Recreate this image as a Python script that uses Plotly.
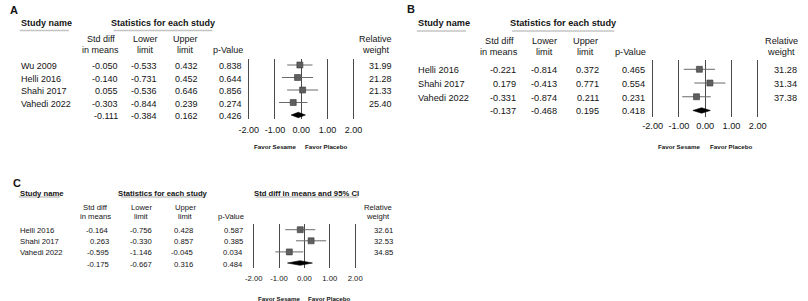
import plotly.graph_objects as go

W, H = 808, 301
FONT = "Liberation Sans, Arial, Helvetica, sans-serif"
TXT = "#141414"

# ---------------- data ----------------
a_study = ["Wu 2009", "Helli 2016", "Shahi 2017", "Vahedi 2022"]
a_smd = [-0.050, -0.140, 0.055, -0.303]
a_lower = [-0.533, -0.731, -0.536, -0.844]
a_upper = [0.432, 0.452, 0.646, 0.239]
a_p = [0.838, 0.644, 0.856, 0.274]
a_weight = [31.99, 21.28, 21.33, 25.40]
a_summary = [-0.111, -0.384, 0.162, 0.426]  # smd, lower, upper, p

b_study = ["Helli 2016", "Shahi 2017", "Vahedi 2022"]
b_smd = [-0.221, 0.179, -0.331]
b_lower = [-0.814, -0.413, -0.874]
b_upper = [0.372, 0.771, 0.211]
b_p = [0.465, 0.554, 0.231]
b_weight = [31.28, 31.34, 37.38]
b_summary = [-0.137, -0.468, 0.195, 0.418]

c_study = ["Helli 2016", "Shahi 2017", "Vahedi 2022"]
c_smd = [-0.164, 0.263, -0.595]
c_lower = [-0.756, -0.330, -1.146]
c_upper = [0.428, 0.857, -0.045]
c_p = [0.587, 0.385, 0.034]
c_weight = [32.61, 32.53, 34.85]
c_summary = [-0.175, -0.667, 0.316, 0.484]

tick_vals = [-2, -1, 0, 1, 2]
tick_text = ["-2.00", "-1.00", "0.00", "1.00", "2.00"]

# ---------------- layout (pixel positions) ----------------
LAY_A = dict(letter="A", letter_xy=(6.5, 9), fs=9, row0=65, dr=12.5, lt=59, lb=118.5,
             xm2=245, xp2=351.7, head_y=22.5, ul_y=30.5, sub_y=(38.3, 49),
             name_x=12, study_ul=(12, 62), stats_ul=(107.5, 208),
             smd=(113, 94.5), lo=(153, 139.5), hi=(194, 180.5), p=(239, 224), w=(391.7, 374),
             standoff=4, favor_y=145.7, favor_c=(272.5, 324.5), ci_head=None, dia=2.7)
LAY_B = dict(letter="B", letter_xy=(410, 8), fs=9.2, row0=69.3, dr=13.73, lt=60, lb=117.3,
             xm2=656, xp2=763, head_y=22.5, ul_y=31, sub_y=(40, 51),
             name_x=416, study_ul=(416, 466), stats_ul=(513, 617),
             smd=(518.3, 500), lo=(560, 545.5), hi=(602.3, 588), p=(649, 633), w=(804, 787),
             standoff=1, favor_y=145.7, favor_c=(683.5, 736.5), ci_head=None, dia=2.7)
LAY_C = dict(letter="C", letter_xy=(9, 181.5), fs=7.7, row0=229.7, dr=11.1, lt=224, lb=267.7,
             xm2=250, xp2=353.3, head_y=192, ul_y=197, sub_y=(206, 215.7),
             name_x=11, study_ul=(11, 53), stats_ul=(115, 200),
             smd=(104.3, 89), lo=(148, 136.3), hi=(189, 180.3), p=(240, 227), w=(392.3, 377),
             standoff=5, favor_y=297, favor_c=(276.5, 327.5), ci_head=(252, 356), dia=2.3)


def X(px):
    return px / W


def Y(py):
    return 1 - py / H


fig = go.Figure()
annotations = []
shapes = []
layout_axes = {}


def ann(text, x, y, yref="paper", xanchor="center", fs=9, bold=False):
    annotations.append(dict(
        text=f"<b>{text}</b>" if bold else text, x=X(x), y=y, xref="paper", yref=yref,
        xanchor=xanchor, yanchor="middle", showarrow=False, yshift=-1,
        font=dict(family=FONT, size=fs, color=TXT), borderpad=0))


def add_panel(i, study, smd, lo, hi, p, w, summ, L):
    sfx = "" if i == 1 else str(i)
    xa, ya = "x" + sfx, "y" + sfx
    yref = ya
    n = len(study)
    rows = list(range(n))
    fs = L["fs"]

    # study squares with CI lines
    fig.add_trace(go.Scatter(
        x=smd, y=rows, mode="markers",
        marker=dict(symbol="square", size=6, color="#5f5f5f",
                    line=dict(color="#3a3a3a", width=0.6)),
        error_x=dict(type="data", symmetric=False,
                     array=[h - s for h, s in zip(hi, smd)],
                     arrayminus=[s - l for s, l in zip(smd, lo)],
                     color="#6a6a6a", thickness=1, width=0),
        xaxis=xa, yaxis=ya, showlegend=False, hoverinfo="skip"))

    # summary diamond
    s, sl, su, sp = summ
    hh = L["dia"] / L["dr"]
    fig.add_trace(go.Scatter(
        x=[sl, s, su, s, sl], y=[n, n - hh, n, n + hh, n], mode="lines",
        fill="toself", fillcolor="#000000", line=dict(color="#000000", width=0.6),
        xaxis=xa, yaxis=ya, showlegend=False, hoverinfo="skip"))

    # axes
    unit = (L["xp2"] - L["xm2"]) / 4
    xdom = [X(L["xm2"] - 0.1 * unit), X(L["xp2"] + 0.1 * unit)]
    top = (L["lt"] - L["row0"]) / L["dr"]
    bot = (L["lb"] - L["row0"]) / L["dr"]
    ydom = [Y(L["lb"]), Y(L["lt"])]
    layout_axes["xaxis" + sfx] = dict(
        domain=xdom, range=[-2.1, 2.1], anchor=ya, showgrid=True, gridcolor="#4a4a4a",
        gridwidth=1, zeroline=False, showline=False, ticks="",
        tickmode="array", tickvals=tick_vals, ticktext=tick_text,
        tickfont=dict(family=FONT, size=fs, color=TXT), ticklabelstandoff=L["standoff"],
        fixedrange=True)
    layout_axes["yaxis" + sfx] = dict(
        domain=ydom, range=[bot, top], anchor=xa, visible=False, showgrid=False,
        zeroline=False, fixedrange=True)

    # letter
    lx, ly = L["letter_xy"]
    ann(L["letter"], lx, Y(ly), fs=11, bold=True)

    # headers
    ann("Study name", L["name_x"], Y(L["head_y"]), xanchor="left", fs=fs, bold=True)
    sx0, sx1 = L["stats_ul"]
    ann("Statistics for each study", (sx0 + sx1) / 2, Y(L["head_y"]), fs=fs, bold=True)
    shapes.append(dict(type="line", xref="paper", yref="paper",
                       x0=X(L["study_ul"][0]), x1=X(L["study_ul"][1]),
                       y0=Y(L["ul_y"]), y1=Y(L["ul_y"]), line=dict(color="#c4c4c4", width=1.5)))
    shapes.append(dict(type="line", xref="paper", yref="paper",
                       x0=X(sx0), x1=X(sx1), y0=Y(L["ul_y"]), y1=Y(L["ul_y"]),
                       line=dict(color="#c4c4c4", width=1.5)))
    if L["ci_head"]:
        c0, c1 = L["ci_head"]
        ann("Std diff in means and 95% CI", (c0 + c1) / 2, Y(L["head_y"]), fs=fs, bold=True)
        shapes.append(dict(type="line", xref="paper", yref="paper",
                           x0=X(c0), x1=X(c1), y0=Y(L["ul_y"]), y1=Y(L["ul_y"]),
                           line=dict(color="#c4c4c4", width=1.5)))

    y1, y2 = L["sub_y"]
    ann("Std diff", L["smd"][1], Y(y1), fs=fs)
    ann("in means", L["smd"][1], Y(y2), fs=fs)
    ann("Lower", L["lo"][1], Y(y1), fs=fs)
    ann("limit", L["lo"][1], Y(y2), fs=fs)
    ann("Upper", L["hi"][1], Y(y1), fs=fs)
    ann("limit", L["hi"][1], Y(y2), fs=fs)
    ann("p-Value", L["p"][1], Y(y2), fs=fs)
    ann("Relative", L["w"][1], Y(y1), fs=fs)
    ann("weight", L["w"][1], Y(y2), fs=fs)

    # rows
    for r in range(n):
        ann(study[r], L["name_x"], r, yref=yref, xanchor="left", fs=fs)
        ann(f"{smd[r]:.3f}", L["smd"][0], r, yref=yref, xanchor="right", fs=fs)
        ann(f"{lo[r]:.3f}", L["lo"][0], r, yref=yref, xanchor="right", fs=fs)
        ann(f"{hi[r]:.3f}", L["hi"][0], r, yref=yref, xanchor="right", fs=fs)
        ann(f"{p[r]:.3f}", L["p"][0], r, yref=yref, xanchor="right", fs=fs)
        ann(f"{w[r]:.2f}", L["w"][0], r, yref=yref, xanchor="right", fs=fs)
    ann(f"{s:.3f}", L["smd"][0], n, yref=yref, xanchor="right", fs=fs)
    ann(f"{sl:.3f}", L["lo"][0], n, yref=yref, xanchor="right", fs=fs)
    ann(f"{su:.3f}", L["hi"][0], n, yref=yref, xanchor="right", fs=fs)
    ann(f"{sp:.3f}", L["p"][0], n, yref=yref, xanchor="right", fs=fs)

    # favour labels
    f0, f1 = L["favor_c"]
    ann("Favor Sesame", f0, Y(L["favor_y"]), fs=6.2, bold=True)
    ann("Favor Placebo", f1, Y(L["favor_y"]), fs=6.2, bold=True)


add_panel(1, a_study, a_smd, a_lower, a_upper, a_p, a_weight, a_summary, LAY_A)
add_panel(2, b_study, b_smd, b_lower, b_upper, b_p, b_weight, b_summary, LAY_B)
add_panel(3, c_study, c_smd, c_lower, c_upper, c_p, c_weight, c_summary, LAY_C)

fig.update_layout(
    width=W, height=H, margin=dict(l=0, r=0, t=0, b=0),
    paper_bgcolor="white", plot_bgcolor="rgba(0,0,0,0)",
    showlegend=False, annotations=annotations, shapes=shapes,
    font=dict(family=FONT, color=TXT), **layout_axes)

fig.write_html(
    "out.html",
    config={"displayModeBar": False, "staticPlot": True},
    post_script="document.body.style.margin='0px';document.body.style.overflow='hidden';")
